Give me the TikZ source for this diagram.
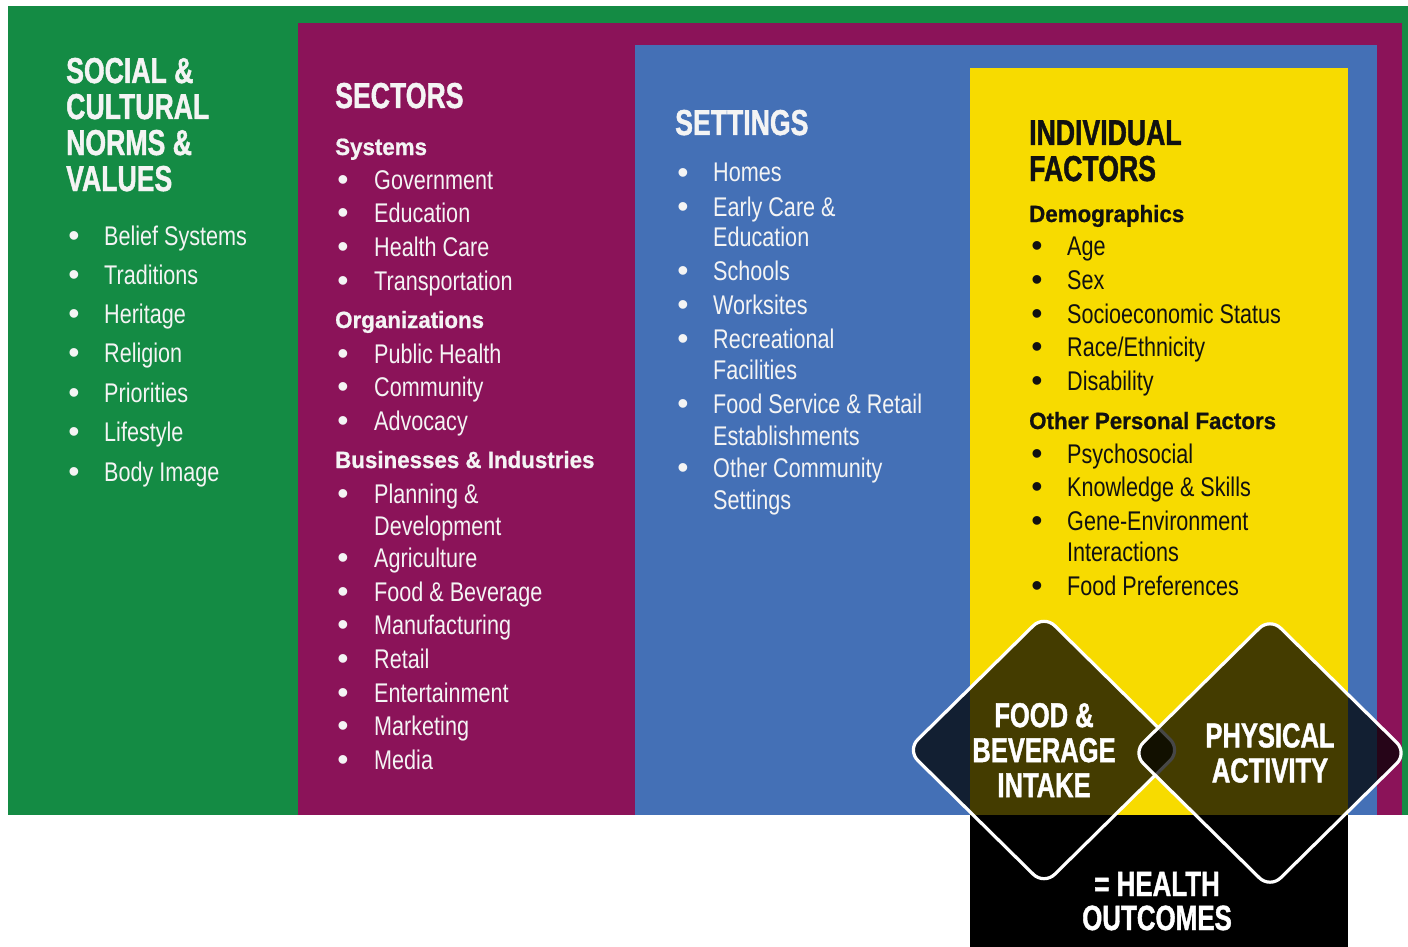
\documentclass[tikz,border=0pt]{standalone}
\usepackage{fontspec}
\setmainfont{Liberation Sans}
\newfontfamily\bodyfont{Liberation Sans}[FakeStretch=0.80]
\newfontfamily\headfont{Liberation Sans}[FakeStretch=0.74,FakeBold=1.2]
\newfontfamily\subfont{Liberation Sans}[FakeStretch=0.95,FakeBold=0.8]
\usetikzlibrary{shapes.geometric}

\definecolor{cgreen}{RGB}{20,139,68}
\definecolor{cmag}{RGB}{139,19,89}
\definecolor{cblue}{RGB}{68,112,182}
\definecolor{cyel}{RGB}{247,219,0}
\definecolor{clight}{RGB}{244,244,244}
\definecolor{cdark}{RGB}{17,17,17}

\tikzset{
  head/.style={anchor=base west, inner sep=0pt,
    font=\headfont\bfseries\fontsize{36}{36}\selectfont},
  sub/.style={anchor=base west, inner sep=0pt,
    font=\subfont\bfseries\fontsize{23.5}{24}\selectfont},
  itm/.style={anchor=base west, inner sep=0pt,
    font=\bodyfont\fontsize{27}{27}\selectfont},
  bul/.style={anchor=base, inner sep=0pt,
    font=\fontsize{32}{32}\selectfont},
  outcome/.style={diamond, draw=white, line width=3.2pt, rounded corners=15pt,
    fill=black, fill opacity=0.72, text opacity=1, text=white, inner sep=0pt,
    align=center, font=\headfont\bfseries\fontsize{34.5}{35}\selectfont},
  bigtxt/.style={anchor=base, inner sep=0pt, text=white,
    font=\headfont\bfseries\fontsize{35}{35}\selectfont},
}

% bulleted entry: name, bullet x, text x, baseline y, text
\newcommand\bitem[5]{%
  \node[bul] (#1-b) at (#2,#4+1) {\textbullet};
  \node[itm] (#1) at (#3,#4) {#5};}

\begin{document}
\begin{tikzpicture}[x=1pt,y=-1pt]
\useasboundingbox (0,0) rectangle (1408,947);
\fill[white] (0,0) rectangle (1408,947);

% nested panels
\fill[cgreen] (8,6) rectangle (1408,815);
\fill[cmag]   (298,23) rectangle (1402,815);
\fill[cblue]  (635,45) rectangle (1377,815);
\fill[cyel]   (970,68) rectangle (1348,815);
\fill[black]  (970,815) rectangle (1348,947);

% social & cultural norms
\begin{scope}[text=clight]
  \node[head] (g-h1) at (66,83)  {SOCIAL \&};
  \node[head] (g-h2) at (66,119) {CULTURAL};
  \node[head] (g-h3) at (66,155) {NORMS \&};
  \node[head] (g-h4) at (66,191) {VALUES};
  \bitem{g1}{74}{104}{245}{Belief Systems}
  \bitem{g2}{74}{104}{284}{Traditions}
  \bitem{g3}{74}{104}{323}{Heritage}
  \bitem{g4}{74}{104}{362}{Religion}
  \bitem{g5}{74}{104}{402}{Priorities}
  \bitem{g6}{74}{104}{441}{Lifestyle}
  \bitem{g7}{74}{104}{481}{Body Image}
\end{scope}

% sectors
\begin{scope}[text=clight]
  \node[head] (m-h) at (335,108) {SECTORS};
  \node[sub] (m-s1) at (335,155) {Systems};
  \bitem{m1}{343}{374}{189}{Government}
  \bitem{m2}{343}{374}{222}{Education}
  \bitem{m3}{343}{374}{256}{Health Care}
  \bitem{m4}{343}{374}{290}{Transportation}
  \node[sub] (m-s2) at (335,328) {Organizations};
  \bitem{m5}{343}{374}{363}{Public Health}
  \bitem{m6}{343}{374}{396}{Community}
  \bitem{m7}{343}{374}{430}{Advocacy}
  \node[sub] (m-s3) at (335,468) {Businesses \& Industries};
  \bitem{m8}{343}{374}{503}{Planning \&}
  \node[itm] (m8b) at (374,535) {Development};
  \bitem{m9}{343}{374}{567}{Agriculture}
  \bitem{m10}{343}{374}{601}{Food \& Beverage}
  \bitem{m11}{343}{374}{634}{Manufacturing}
  \bitem{m12}{343}{374}{668}{Retail}
  \bitem{m13}{343}{374}{702}{Entertainment}
  \bitem{m14}{343}{374}{735}{Marketing}
  \bitem{m15}{343}{374}{769}{Media}
\end{scope}

% settings
\begin{scope}[text=clight]
  \node[head] (b-h) at (675,135) {SETTINGS};
  \bitem{b1}{683}{713}{182}{Homes}
  \bitem{b2}{683}{713}{216}{Early Care \&}
  \node[itm] (b2b) at (713,246) {Education};
  \bitem{b3}{683}{713}{280}{Schools}
  \bitem{b4}{683}{713}{314}{Worksites}
  \bitem{b5}{683}{713}{348}{Recreational}
  \node[itm] (b5b) at (713,379) {Facilities};
  \bitem{b6}{683}{713}{413}{Food Service \& Retail}
  \node[itm] (b6b) at (713,445) {Establishments};
  \bitem{b7}{683}{713}{477}{Other Community}
  \node[itm] (b7b) at (713,509) {Settings};
\end{scope}

% individual factors
\begin{scope}[text=cdark]
  \node[head] (y-h1) at (1029,145) {INDIVIDUAL};
  \node[head] (y-h2) at (1029,181) {FACTORS};
  \node[sub] (y-s1) at (1029,222) {Demographics};
  \bitem{y1}{1037}{1067}{255}{Age}
  \bitem{y2}{1037}{1067}{289}{Sex}
  \bitem{y3}{1037}{1067}{323}{Socioeconomic Status}
  \bitem{y4}{1037}{1067}{356}{Race/Ethnicity}
  \bitem{y5}{1037}{1067}{390}{Disability}
  \node[sub] (y-s2) at (1029,429) {Other Personal Factors};
  \bitem{y6}{1037}{1067}{463}{Psychosocial}
  \bitem{y7}{1037}{1067}{496}{Knowledge \& Skills}
  \bitem{y8}{1037}{1067}{530}{Gene-Environment}
  \node[itm] (y8b) at (1067,561) {Interactions};
  \bitem{y9}{1037}{1067}{595}{Food Preferences}
\end{scope}

% behaviour diamonds
\node[outcome, minimum width=275pt, minimum height=271pt] (food) at (1044,750)
  {FOOD \&\\BEVERAGE\\INTAKE};
\node[outcome, minimum width=276pt, minimum height=272pt] (activity) at (1270,753)
  {PHYSICAL\\ACTIVITY};

% result
\node[bigtxt] (out1) at (1157,896) {= HEALTH};
\node[bigtxt] (out2) at (1157,930) {OUTCOMES};
\end{tikzpicture}
\end{document}
